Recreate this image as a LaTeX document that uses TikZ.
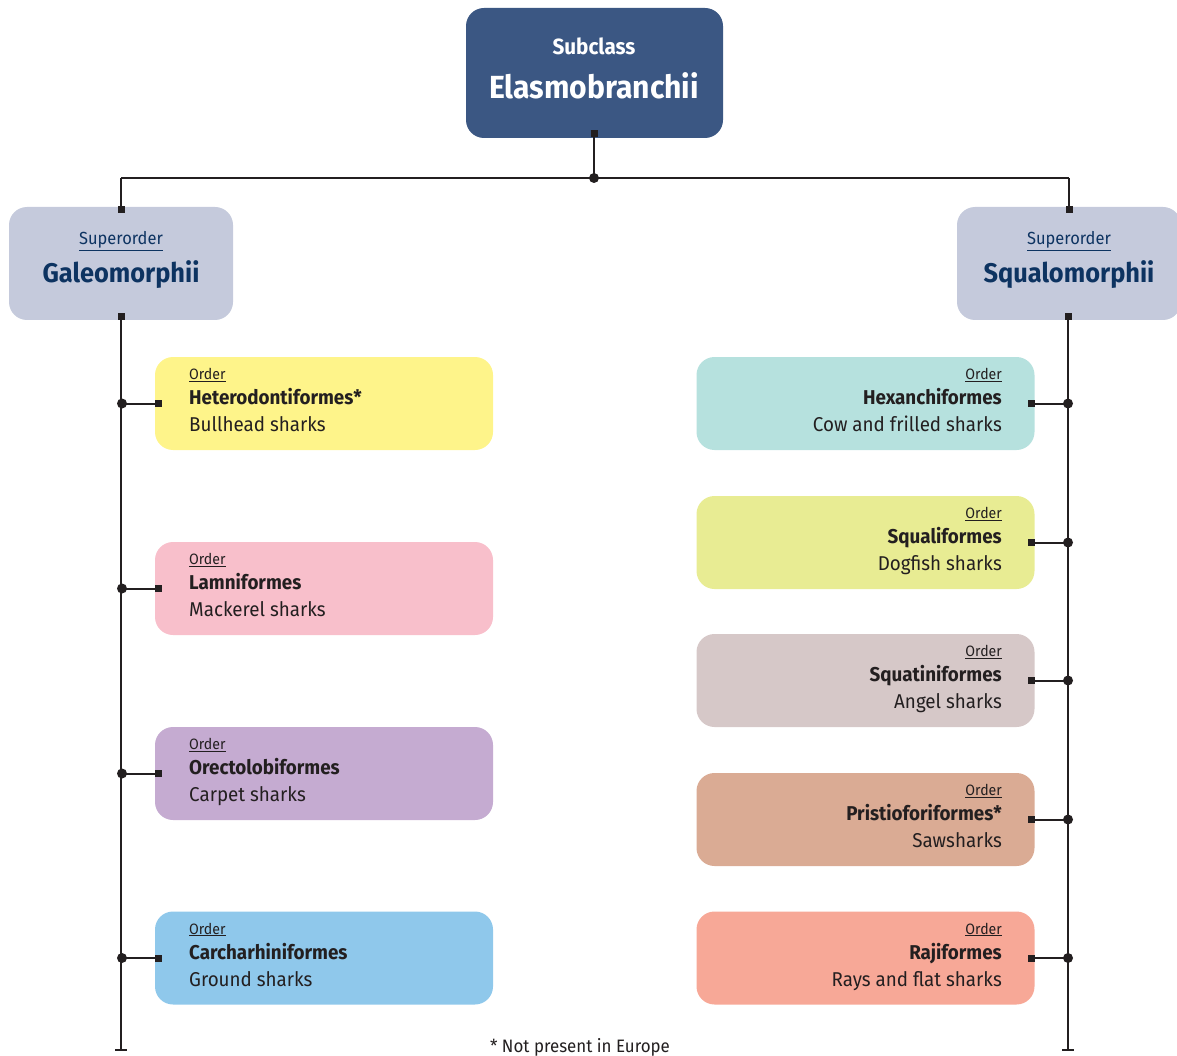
\documentclass[tikz,border=0pt]{standalone}
\usepackage{fontspec}
\setmainfont[FakeStretch=0.94]{Fira Sans}
\definecolor{topblue}{HTML}{3B5783}
\definecolor{supbox}{HTML}{C5CADC}
\definecolor{suptext}{HTML}{0D3361}
\definecolor{ink}{HTML}{231F20}
\definecolor{cHet}{HTML}{FEF48A}
\definecolor{cLam}{HTML}{F8BFCB}
\definecolor{cOre}{HTML}{C5ABD1}
\definecolor{cCar}{HTML}{8FC8EB}
\definecolor{cHex}{HTML}{B6E1DE}
\definecolor{cSqu}{HTML}{E8EC93}
\definecolor{cSqt}{HTML}{D6C8C8}
\definecolor{cPri}{HTML}{DAAB94}
\definecolor{cRaj}{HTML}{F7A897}
\tikzset{
  boxbase/.style={rectangle, rounded corners=18pt, inner sep=0pt},
  orderbox/.style={boxbase, minimum width=338pt, minimum height=93pt},
  supbox/.style={boxbase, fill=supbox, minimum width=224pt, minimum height=113pt},
  conn/.style={draw=ink, line width=2pt},
  sq/.style={fill=ink, minimum size=7pt, inner sep=0pt, rectangle},
  dotm/.style={fill=ink, circle, minimum size=10pt, inner sep=0pt},
  lbl/.style={inner sep=0pt, text=ink},
}
\begin{document}
\begin{tikzpicture}[x=1pt,y=-1pt]
\useasboundingbox (0,0) rectangle (1177,1056);
% top
\node[boxbase, fill=topblue, minimum width=257pt, minimum height=130pt] (top) at (594.5,73) {};
\node[inner sep=0pt, text=white, font=\fontsize{22}{24}\selectfont\bfseries] (topa) at (594,46) {Subclass};
\node[inner sep=0pt, text=white, font=\fontsize{32}{34}\selectfont\bfseries] (topb) at (594,86) {Elasmobranchii};
% superorders
\node[supbox] (gal) at (121,263.5) {};
\node[supbox] (squ) at (1069,263.5) {};
\node[inner sep=0pt, text=suptext, font=\fontsize{17.5}{19}\selectfont] (gala) at (121,241) {\underline{Superorder}};
\node[inner sep=0pt, text=suptext, font=\fontsize{27}{29}\selectfont\bfseries] (galb) at (121,275) {Galeomorphii};
\node[inner sep=0pt, text=suptext, font=\fontsize{17.5}{19}\selectfont] (squa) at (1069,241) {\underline{Superorder}};
\node[inner sep=0pt, text=suptext, font=\fontsize{27}{29}\selectfont\bfseries] (squb) at (1069,275) {Squalomorphii};
% connector skeleton
\node[sq] (topsq) at (594,134) {};
\node[dotm] (topdot) at (594,178) {};
\coordinate (lc) at (121,178);
\coordinate (rc) at (1069,178);
\node[sq] (galtop) at (121,210) {};
\node[sq] (squtop) at (1069,210) {};
\node[sq] (galbot) at (121,317) {};
\node[sq] (squbot) at (1068,317) {};
\draw[conn] (topsq.center) -- (topdot.center);
\draw[conn] (lc) -- (rc);
\draw[conn] (lc) -- (galtop.center);
\draw[conn] (rc) -- (squtop.center);
\coordinate (lend) at (121,1050);
\coordinate (rend) at (1068,1050);
\draw[conn] (galbot.center) -- (lend);
\draw[conn] (squbot.center) -- (rend);
\draw[conn] (115,1050) -- (127,1050);
\draw[conn] (1062,1050) -- (1074,1050);
% left orders
\foreach \nm/\col/\y/\name/\common in {
  het/cHet/403.5/Heterodontiformes*/Bullhead sharks,
  lam/cLam/588.5/Lamniformes/Mackerel sharks,
  ore/cOre/773.5/Orectolobiformes/Carpet sharks,
  car/cCar/958/Carcharhiniformes/Ground sharks}{
  \node[orderbox, fill=\col] (\nm) at (324,\y) {};
  \node[lbl, anchor=base west, font=\fontsize{15}{17}\selectfont] (\nm a) at (189,\y-24) {\underline{Order}};
  \node[lbl, anchor=base west, font=\fontsize{20}{22}\selectfont\bfseries] (\nm b) at (189,\y+1) {\name};
  \node[lbl, anchor=base west, font=\fontsize{20}{22}\selectfont] (\nm c) at (189,\y+28) {\common};
  \node[sq] (\nm sq) at (158,\y) {};
  \node[dotm] (\nm dot) at (122,\y) {};
  \draw[conn] (\nm dot.center) -- (\nm sq.center);
}
% right orders
\foreach \nm/\col/\y/\name/\common in {
  hex/cHex/403.5/Hexanchiformes/Cow and frilled sharks,
  sql/cSqu/542.5/Squaliformes/Dogfish sharks,
  sqt/cSqt/680.5/Squatiniformes/Angel sharks,
  pri/cPri/819.5/Pristioforiformes*/Sawsharks,
  raj/cRaj/958/Rajiformes/Rays and flat sharks}{
  \node[orderbox, fill=\col] (\nm) at (865.5,\y) {};
  \node[lbl, anchor=base east, font=\fontsize{15}{17}\selectfont] (\nm a) at (1002,\y-24) {\underline{Order}};
  \node[lbl, anchor=base east, font=\fontsize{20}{22}\selectfont\bfseries] (\nm b) at (1002,\y+1) {\name};
  \node[lbl, anchor=base east, font=\fontsize{20}{22}\selectfont] (\nm c) at (1002,\y+28) {\common};
  \node[sq] (\nm sq) at (1031,\y) {};
  \node[dotm] (\nm dot) at (1068,\y) {};
  \draw[conn] (\nm sq.center) -- (\nm dot.center);
}
\node[lbl, anchor=base, font=\fontsize{18}{20}\selectfont] (foot) at (580,1052) {* Not present in Europe};
\end{tikzpicture}
\end{document}
